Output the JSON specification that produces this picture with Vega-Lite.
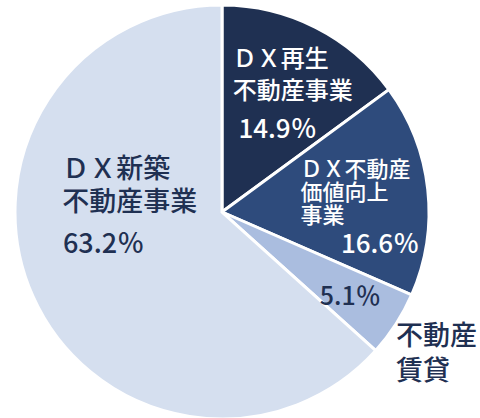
{
  "$schema": "https://vega.github.io/schema/vega-lite/v6.json",
  "width": 444,
  "height": 412,
  "autosize": {"type": "none"},
  "padding": {"left": 0, "right": 36, "top": 6, "bottom": 0},
  "background": "white",
  "view": {"stroke": null},
  "data": {"values": [
    {"idx": 1, "cat": "ＤＸ再生不動産事業", "label": "ＤＸ再生\n不動産事業", "pct": "14.9％", "value": 14.9},
    {"idx": 2, "cat": "ＤＸ不動産価値向上事業", "label": "ＤＸ不動産\n価値向上\n事業", "pct": "16.6％", "value": 16.6},
    {"idx": 3, "cat": "不動産賃貸", "label": "不動産\n賃貸", "pct": "5.1％", "value": 5.1},
    {"idx": 4, "cat": "ＤＸ新築不動産事業", "label": "ＤＸ新築\n不動産事業", "pct": "63.2％", "value": 63.2}
  ]},
  "encoding": {
    "theta": {"field": "value", "type": "quantitative", "stack": true},
    "order": {"field": "idx", "type": "quantitative"}
  },
  "layer": [
    {
      "mark": {"type": "arc", "outerRadius": 207, "stroke": "white", "strokeWidth": 3},
      "encoding": {
        "color": {"field": "cat", "type": "nominal", "legend": null,
          "scale": {"domain": ["ＤＸ再生不動産事業", "ＤＸ不動産価値向上事業", "不動産賃貸", "ＤＸ新築不動産事業"],
                    "range": ["#1f3052", "#2e4b7c", "#aabddf", "#d5dfef"]}}
      }
    },
    {
      "mark": {"type": "text", "radius": 150, "dx": -57, "dy": -18, "align": "left", "baseline": "middle", "fontSize": 24, "lineHeight": 32, "lineBreak": "\n", "color": "white", "font": "Noto Sans CJK JP", "fontWeight": 500},
      "encoding": {"text": {"condition": {"test": "datum.idx == 1", "field": "label"}, "value": ""}}
    },
    {
      "mark": {"type": "text", "radius": 92, "dx": 14, "dy": 0, "align": "center", "baseline": "middle", "fontSize": 26, "color": "white", "font": "Noto Sans CJK JP", "fontWeight": 500},
      "encoding": {"text": {"condition": {"test": "datum.idx == 1", "field": "pct"}, "value": ""}}
    },
    {
      "mark": {"type": "text", "radius": 100, "dx": -21, "dy": -31, "align": "left", "baseline": "middle", "fontSize": 22, "lineHeight": 23, "lineBreak": "\n", "color": "white", "font": "Noto Sans CJK JP", "fontWeight": 500},
      "encoding": {"text": {"condition": {"test": "datum.idx == 2", "field": "label"}, "value": ""}}
    },
    {
      "mark": {"type": "text", "radius": 160, "dx": -1, "dy": 51, "align": "center", "baseline": "middle", "fontSize": 26, "color": "white", "font": "Noto Sans CJK JP", "fontWeight": 500},
      "encoding": {"text": {"condition": {"test": "datum.idx == 2", "field": "pct"}, "value": ""}}
    },
    {
      "mark": {"type": "text", "radius": 155, "dx": -2, "dy": 1, "align": "center", "baseline": "middle", "fontSize": 25, "color": "#1f3052", "font": "Noto Sans CJK JP", "fontWeight": 500},
      "encoding": {"text": {"condition": {"test": "datum.idx == 3", "field": "pct"}, "value": ""}}
    },
    {
      "mark": {"type": "text", "radius": 225, "dx": -15, "dy": 3, "align": "left", "baseline": "middle", "fontSize": 27, "lineHeight": 35, "lineBreak": "\n", "color": "#1f3052", "font": "Noto Sans CJK JP", "fontWeight": 500},
      "encoding": {"text": {"condition": {"test": "datum.idx == 3", "field": "label"}, "value": ""}}
    },
    {
      "mark": {"type": "text", "radius": 120, "dx": -50, "dy": -91, "align": "left", "baseline": "middle", "fontSize": 27, "lineHeight": 33, "lineBreak": "\n", "color": "#1f3052", "font": "Noto Sans CJK JP", "fontWeight": 500},
      "encoding": {"text": {"condition": {"test": "datum.idx == 4", "field": "label"}, "value": ""}}
    },
    {
      "mark": {"type": "text", "radius": 150, "dx": -22, "dy": -28, "align": "left", "baseline": "middle", "fontSize": 27, "color": "#1f3052", "font": "Noto Sans CJK JP", "fontWeight": 500},
      "encoding": {"text": {"condition": {"test": "datum.idx == 4", "field": "pct"}, "value": ""}}
    }
  ]
}
